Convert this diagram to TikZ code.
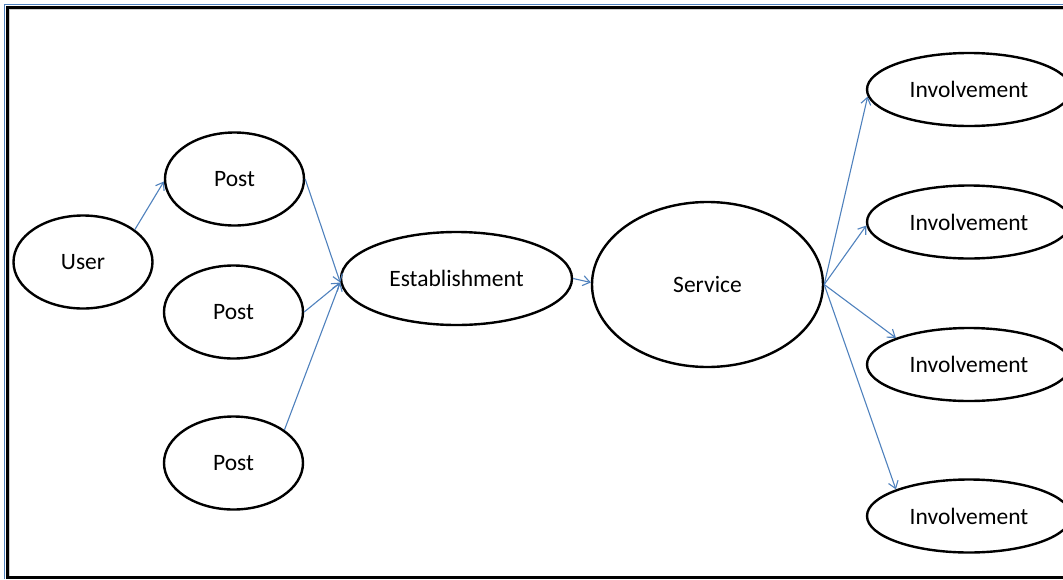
\documentclass[tikz,border=0pt]{standalone}
\usepackage{fontspec}
\setmainfont{Carlito}
\usepackage{xcolor}
\usepackage{tikz}
\usetikzlibrary{arrows.meta,shapes.geometric}

\definecolor{linkblue}{RGB}{79,129,189}

\begin{document}
\begin{tikzpicture}[x=1pt, y=-1pt, >={Straight Barb[length=7pt,width=10pt]},
  oval/.style={ellipse, draw, line width=2.4pt, inner sep=0pt,
    font=\fontsize{23.5}{28}\selectfont},
  small/.style={oval, minimum width=139pt, minimum height=93pt},
  leaf/.style={oval, minimum width=204pt, minimum height=73pt},
  link/.style={->, line width=1.1pt, linkblue}]
  \useasboundingbox (0,0) rectangle (1063,579);
  % frame round the page
  \draw[linkblue, line width=1pt] (4.5,579) -- (4.5,4.5) -- (1063,4.5);
  \draw[line width=3pt] (7.5,579) -- (7.5,7.5) -- (1063,7.5);
  \draw[line width=3pt] (7.5,577.5) -- (1063,577.5);
  \draw[gray!40, line width=1pt] (9.8,576) -- (9.8,9.8) -- (1063,9.8);

  \node[small] (user)  at (83,262)    {User};
  \node[small] (post1) at (234.5,179) {Post};
  \node[small] (post2) at (233.5,312) {Post};
  \node[small] (post3) at (233.5,463) {Post};
  \node[oval, minimum width=231pt, minimum height=93pt] (est) at (456.5,278.5) {Establishment};
  \node[oval, minimum width=231pt, minimum height=165pt] (serv) at (707.5,284.5) {Service};
  \node[leaf] (inv1) at (969,89.5)  {Involvement};
  \node[leaf] (inv2) at (969,222)   {Involvement};
  \node[leaf] (inv3) at (969,364.5) {Involvement};
  \node[leaf] (inv4) at (969,516)   {Involvement};

  \draw[link] (user.32) -- (post1.182);
  \draw[link] (post1.east) -- (est.182);
  \draw[link] (post2.east) -- (est.182);
  \draw[link] (post3.33) -- (est.182);
  \draw[link] (est.east) -- (serv.179);
  \draw[link] (serv.east) -- (inv1.184);
  \draw[link] (serv.east) -- (inv2.182);
  \draw[link] (serv.east) -- (inv3.160);
  \draw[link] (serv.east) -- (inv4.160);
\end{tikzpicture}
\end{document}
